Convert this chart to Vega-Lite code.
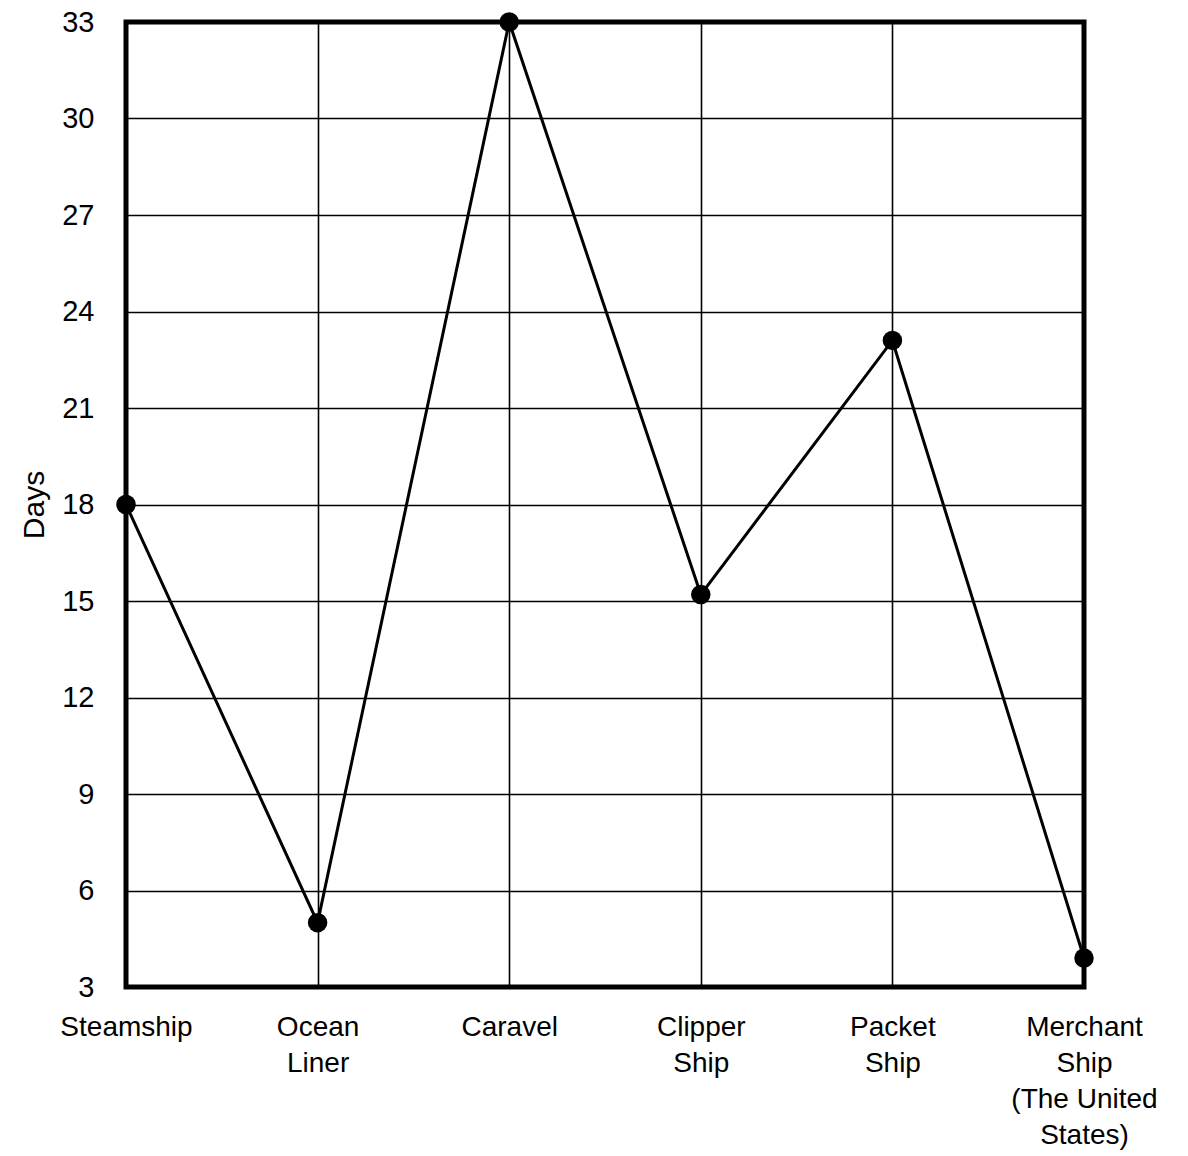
{
  "$schema": "https://vega.github.io/schema/vega-lite/v6.json",
  "width": 958,
  "height": 965,
  "autosize": {"type": "none"},
  "padding": {"left": 126, "top": 22, "right": 104, "bottom": 169},
  "background": "white",
  "config": {
    "view": {"stroke": "black", "strokeWidth": 5},
    "font": "Liberation Sans",
    "axis": {
      "domain": false,
      "ticks": false,
      "grid": true,
      "gridColor": "black",
      "gridOpacity": 1,
      "gridWidth": 1.6,
      "labelColor": "black",
      "titleColor": "black",
      "labelFont": "Liberation Sans",
      "titleFont": "Liberation Sans"
    }
  },
  "data": {
    "values": [
      {"ship": "Steamship", "days": 18},
      {"ship": "Ocean Liner", "days": 5},
      {"ship": "Caravel", "days": 33},
      {"ship": "Clipper Ship", "days": 15.2},
      {"ship": "Packet Ship", "days": 23.1},
      {"ship": "Merchant Ship", "days": 3.9}
    ]
  },
  "encoding": {
    "x": {
      "field": "ship",
      "type": "nominal",
      "sort": null,
      "scale": {"type": "point", "padding": 0},
      "axis": {
        "title": null,
        "labelAngle": 0,
        "labelFontSize": 28,
        "labelPadding": 26,
        "labelLineHeight": 36,
        "labelBaseline": "top",
        "labelAlign": "center",
        "labelFlush": false,
        "labelOverlap": false,
        "labelExpr": "datum.value == 'Ocean Liner' ? ['Ocean', 'Liner'] : datum.value == 'Clipper Ship' ? ['Clipper', 'Ship'] : datum.value == 'Packet Ship' ? ['Packet', 'Ship'] : datum.value == 'Merchant Ship' ? ['Merchant', 'Ship', '(The United', 'States)'] : datum.value"
      }
    },
    "y": {
      "field": "days",
      "type": "quantitative",
      "scale": {"domain": [3, 33], "nice": false, "zero": false},
      "axis": {
        "title": "Days",
        "titleFontSize": 30,
        "titleFontWeight": "normal",
        "titlePadding": 12,
        "values": [3, 6, 9, 12, 15, 18, 21, 24, 27, 30, 33],
        "labelFontSize": 29,
        "labelPadding": 32,
        "labelFlush": false,
        "labelOverlap": false
      }
    }
  },
  "layer": [
    {"mark": {"type": "line", "color": "black", "strokeWidth": 3}},
    {"mark": {"type": "point", "filled": true, "color": "black", "opacity": 1, "size": 380}}
  ]
}
